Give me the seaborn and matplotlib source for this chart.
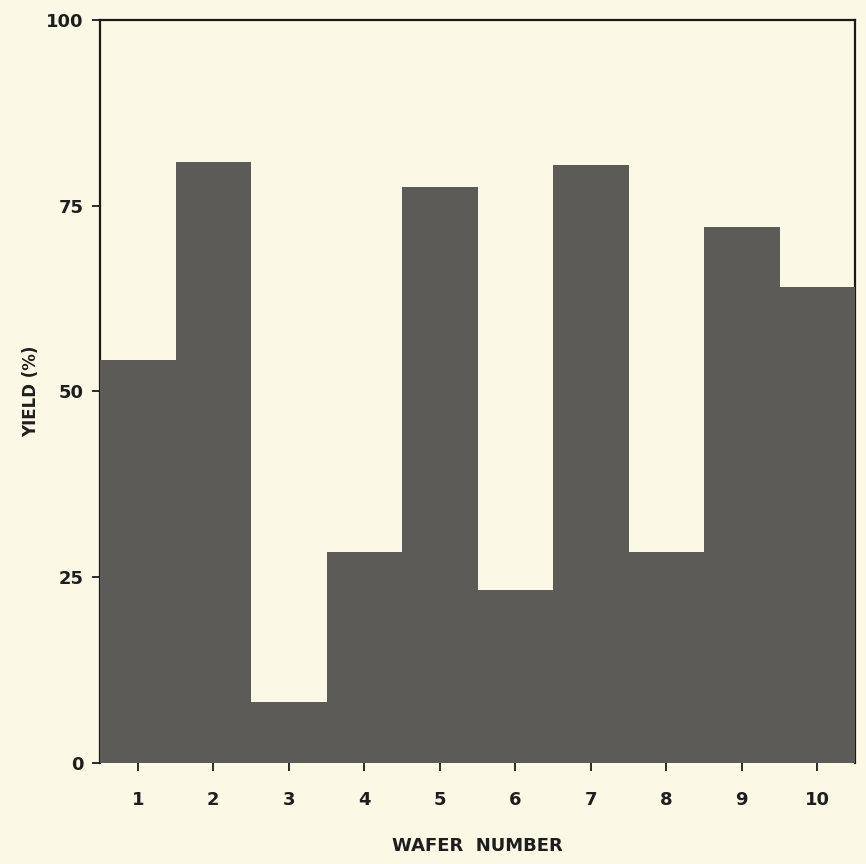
import matplotlib
matplotlib.use("Agg")
import matplotlib.pyplot as plt
import seaborn as sns
import pandas as pd

# Per-wafer yield
wafers = ["1", "2", "3", "4", "5", "6", "7", "8", "9", "10"]
yield_pct = [54.2, 80.9, 8.2, 28.4, 77.5, 23.3, 80.5, 28.4, 72.1, 64.1]
y_ticks = [0, 25, 50, 75, 100]

paper = "#fcf8e6"
bar_color = "#5c5b58"

sns.set_theme(style="ticks")
plt.rcParams["font.family"] = ["DejaVu Sans"]
plt.rcParams["font.weight"] = "bold"

df = pd.DataFrame({"wafer": wafers, "yield": yield_pct})

fig = plt.figure(figsize=(8.66, 8.64), dpi=100, facecolor=paper)
ax = fig.add_axes([0.1155, 0.1169, 0.8718, 0.86])
ax.set_facecolor(paper)

sns.barplot(data=df, x="wafer", y="yield", color=bar_color, saturation=1,
            width=1.0, linewidth=0, ax=ax, zorder=3)

ax.set_xlim(-0.5, len(wafers) - 0.5)
ax.set_ylim(0, 100)
ax.set_yticks(y_ticks)
ax.set_yticklabels([str(t) for t in y_ticks])

for side, sp in ax.spines.items():
    sp.set_color("#1a1a1a")
    sp.set_linewidth(1.6)
    sp.set_zorder(1)
ax.spines["bottom"].set_visible(False)

ax.tick_params(axis="both", direction="out", length=6, width=1.4,
               color="#2a2a2a", labelsize=13, labelcolor="#1e1e1e", pad=6)
ax.tick_params(axis="x", pad=14)
for lbl in ax.get_xticklabels() + ax.get_yticklabels():
    lbl.set_fontweight("bold")

ax.set_xlabel("WAFER  NUMBER", fontsize=13, fontweight="bold",
              color="#1e1e1e", labelpad=20)
ax.set_ylabel("YIELD (%)", fontsize=12, fontweight="bold",
              color="#1e1e1e", labelpad=4)

fig.savefig("out.png", dpi=100, facecolor=paper)
